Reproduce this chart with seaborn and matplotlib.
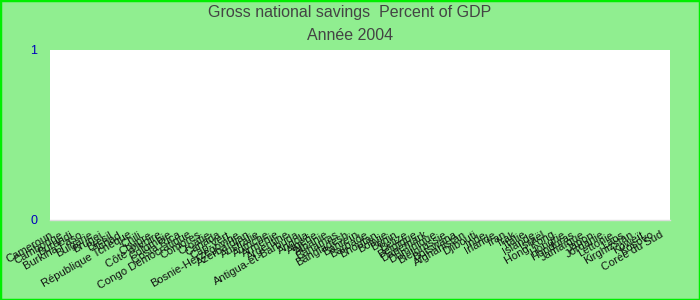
import numpy as np
import pandas as pd
import matplotlib
matplotlib.use("Agg")
import matplotlib.pyplot as plt
from matplotlib.patches import Rectangle
import seaborn as sns

title_line1 = "Gross national savings  Percent of GDP"
title_line2 = "Année 2004"

countries = [
    "Cameroun", "Cambodge", "Burundi", "Burkina Faso", "Bulgarie", "Brunei",
    "Brésil", "Tchad", "République Tchèque", "Chili", "Chypre", "Côte d'Ivoire",
    "Colombie", "Costa Rica", "Congo Démocratique", "Comores", "Croatie", "Canada",
    "Cap-Vert", "Bosnie-Herzégovine", "Azerbaïdjan", "Australie", "Autriche",
    "Arménie", "Argentine", "Antigua-et-Barbuda", "Angola", "Algérie", "Albanie",
    "Bahamas", "Bangladesh", "Bahreïn", "Barbade", "Bhoutan", "Bolivie", "Bénin",
    "Belize", "Belgique", "Danemark", "Dominique", "Biélorussie", "Botswana",
    "Afghanistan", "Djibouti", "Inde", "Irlande", "Iran", "Irak", "Italie",
    "Islande", "Israël", "Hong Kong", "Hongrie", "Honduras", "Jamaïque", "Japon",
    "Jordanie", "Lettonie", "Laos", "Kirghizstan", "Koweït", "Kosovo", "Corée du Sud",
]
# No values are shown in the reference chart (empty plot area)
values = [np.nan] * len(countries)
y_ticks = [0, 1]

df = pd.DataFrame({"pays": countries, "valeur": values})

sns.set_theme(style="white")
plt.rcParams["font.family"] = ["Liberation Sans", "DejaVu Sans"]

fig = plt.figure(figsize=(7, 3), dpi=100, facecolor="#90EE90")
ax = fig.add_axes([50 / 700, 1 - 220 / 300, 620 / 700, 170 / 300])
ax.set_facecolor("white")

sns.barplot(data=df, x="pays", y="valeur", order=countries, ax=ax, color="#4472c4")

ax.set_xlim(-0.5, len(countries) - 0.5)
ax.set_ylim(0, 1)
ax.set_yticks(y_ticks)
ax.set_yticklabels([str(v) for v in y_ticks], color="#0000bb", fontsize=9)
ax.set_xticks(range(len(countries)))
ax.set_xticklabels(countries, rotation=30, ha="right", rotation_mode="default",
                   fontsize=8, color="#111111")
ax.tick_params(axis="both", length=0)
ax.tick_params(axis="y", pad=9)
ax.tick_params(axis="x", pad=7)
ax.set_xlabel("")
ax.set_ylabel("")
for s in ax.spines.values():
    s.set_visible(False)
ax.spines["bottom"].set_visible(True)
ax.spines["bottom"].set_color("#dddddd")
ax.spines["bottom"].set_linewidth(1)

fig.text(0.5, 1 - 13 / 300, title_line1, ha="center", va="center",
         fontsize=11.5, color="#444444")
fig.text(0.5, 1 - 36 / 300, title_line2, ha="center", va="center",
         fontsize=11.5, color="#444444")

fig.patches.append(Rectangle((0, 0), 1, 1, transform=fig.transFigure,
                             fill=False, edgecolor="#00ee00", linewidth=2.5))

fig.savefig("out.png", dpi=100, facecolor=fig.get_facecolor())
